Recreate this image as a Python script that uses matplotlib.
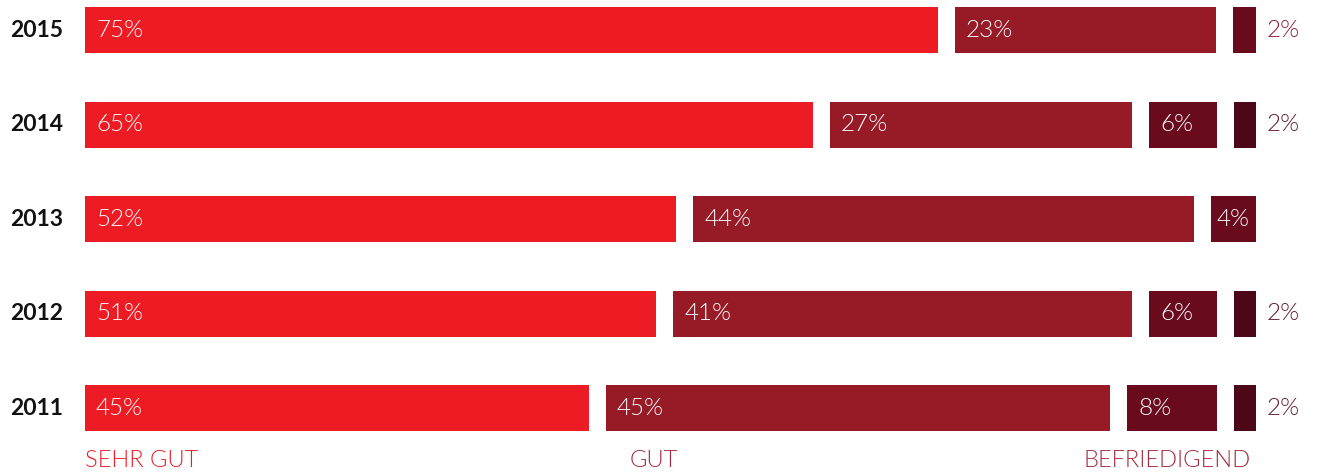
import numpy as np
import matplotlib
matplotlib.use('Agg')
import matplotlib.pyplot as plt

matplotlib.rcParams['font.family'] = ['Lato', 'DejaVu Sans']

# data
years = ['2015', '2014', '2013', '2012', '2011']
sehr_gut = [75, 65, 52, 51, 45]
gut = [23, 27, 44, 41, 45]
befriedigend = [2, 6, 4, 6, 8]
ausreichend = [0, 2, 0, 2, 2]
categories = ['SEHR GUT', 'GUT', 'BEFRIEDIGEND']

bar_colors = ['#ED1C24', '#961B27', '#6A0A1D', '#4C0719']
out_colors = ['#ED1C24', '#961B27', '#8A1C33', '#5E1A33']
cat_colors = ['#ED1C24', '#A3273A', '#A3273A']

W, H = 1319, 473
fig = plt.figure(figsize=(W / 100, H / 100), dpi=100)
# axes spans the bar area horizontally, full height vertically
ax = fig.add_axes([85 / W, 0, 1171 / W, 1])
row_px = 94.5
top = -30.3 / row_px
ax.set_ylim(top + H / row_px, top)
ax.set_xlim(0, 100)
ax.axis('off')

gap = 17 / 1171 * 100
bar_h = 46 / row_px
pad = 11 / 1171 * 100
lw = 300

series = np.array([sehr_gut, gut, befriedigend, ausreichend])
for i, year in enumerate(years):
    vals = series[:, i]
    n = np.count_nonzero(vals)
    scale = (100 - gap * (n - 1)) / 100
    left = 0
    for k, v in enumerate(vals):
        if v == 0:
            continue
        w = v * scale
        ax.barh(i, w, left=left, height=bar_h, color=bar_colors[k])
        label = f'{v}%'
        if v <= 2:
            ax.text(left + w + pad, i, label, ha='left', va='center',
                    fontsize=17.5, fontweight=lw, color=out_colors[k],
                    clip_on=False)
        elif v <= 4:
            ax.text(left + w / 2, i, label, ha='center', va='center',
                    fontsize=17.5, fontweight=lw, color='white')
        else:
            ax.text(left + pad, i, label, ha='left', va='center',
                    fontsize=17.5, fontweight=lw, color='white')
        left += w + gap
    ax.text(-22 / 1171 * 100, i, year, ha='right', va='center',
            fontsize=16.5, fontweight='bold', color='#111111', clip_on=False)

# category names under the bars
cat_y = (461 - 30.3) / row_px
ax.text(0, cat_y, categories[0], ha='left', va='center', fontsize=17,
        fontweight=lw, color=cat_colors[0])
ax.text((630 - 85) / 1171 * 100, cat_y, categories[1], ha='left',
        va='center', fontsize=17, fontweight=lw, color=cat_colors[1])
ax.text((1251 - 85) / 1171 * 100, cat_y, categories[2], ha='right',
        va='center', fontsize=17, fontweight=lw, color=cat_colors[2])

plt.savefig('out.png', dpi=100)
